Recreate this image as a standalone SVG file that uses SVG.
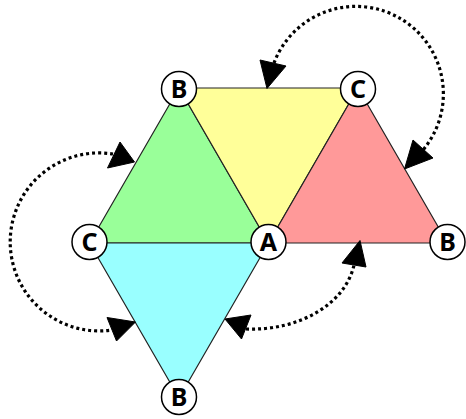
<svg xmlns="http://www.w3.org/2000/svg" width="466" height="419" viewBox="0 0 466 419">
<style>
.tri{stroke:#222;stroke-width:1.2;stroke-linejoin:round}
.dot{fill:none;stroke:#000;stroke-width:3.2;stroke-dasharray:3 3}
.head{fill:#000;stroke:#000;stroke-width:1;stroke-linejoin:round}
.node circle{fill:#fff;stroke:#000;stroke-width:1.5}
.node text{font-family:"Comic Sans MS","Noto Sans","DejaVu Sans",sans-serif;font-weight:bold;font-size:25px;text-anchor:middle;fill:#000}
</style>
<rect width="466" height="419" fill="#fff"/>
<g id="triangles">
<polygon class="tri" points="179,88 89.5,243 268.5,243" fill="#99ff99"/>
<polygon class="tri" points="179,88 358,88 268.5,243" fill="#ffff99"/>
<polygon class="tri" points="358,88 268.5,243 447.5,243" fill="#ff9999"/>
<polygon class="tri" points="89.5,243 268.5,243 179,398" fill="#99ffff"/>
</g>
<g id="connectors">
<path class="dot" d="M274,63 A87.5 87.5 0 1 1 423,150"/>
<polygon class="head" points="267,88.5 260,60 286,66"/>
<polygon class="head" points="404.5,169 413,140 433,158"/>
<path class="dot" d="M113,154 A89 89 0 1 0 112,330"/>
<polygon class="head" points="134.5,162 120,142 107.5,168"/>
<polygon class="head" points="135.5,322 107,317.5 116.5,341"/>
<path class="dot" d="M246,329 C298,331 345,305 354,265"/>
<polygon class="head" points="225,319 251,315 241.5,339"/>
<polygon class="head" points="360,240.5 342,263 366,267"/>
</g>
<g id="node-B-top" class="node"><circle cx="179" cy="89" r="17.5"/><text x="179" y="98">B</text></g>
<g id="node-C-top" class="node"><circle cx="358" cy="89" r="17.5"/><text x="358" y="98">C</text></g>
<g id="node-C-left" class="node"><circle cx="89.5" cy="242" r="17.5"/><text x="89.5" y="251">C</text></g>
<g id="node-A" class="node"><circle cx="268.5" cy="242" r="17.5"/><text x="268.5" y="251">A</text></g>
<g id="node-B-right" class="node"><circle cx="447.5" cy="242" r="17.5"/><text x="447.5" y="251">B</text></g>
<g id="node-B-bottom" class="node"><circle cx="179" cy="397" r="17.5"/><text x="179" y="406">B</text></g>
</svg>
